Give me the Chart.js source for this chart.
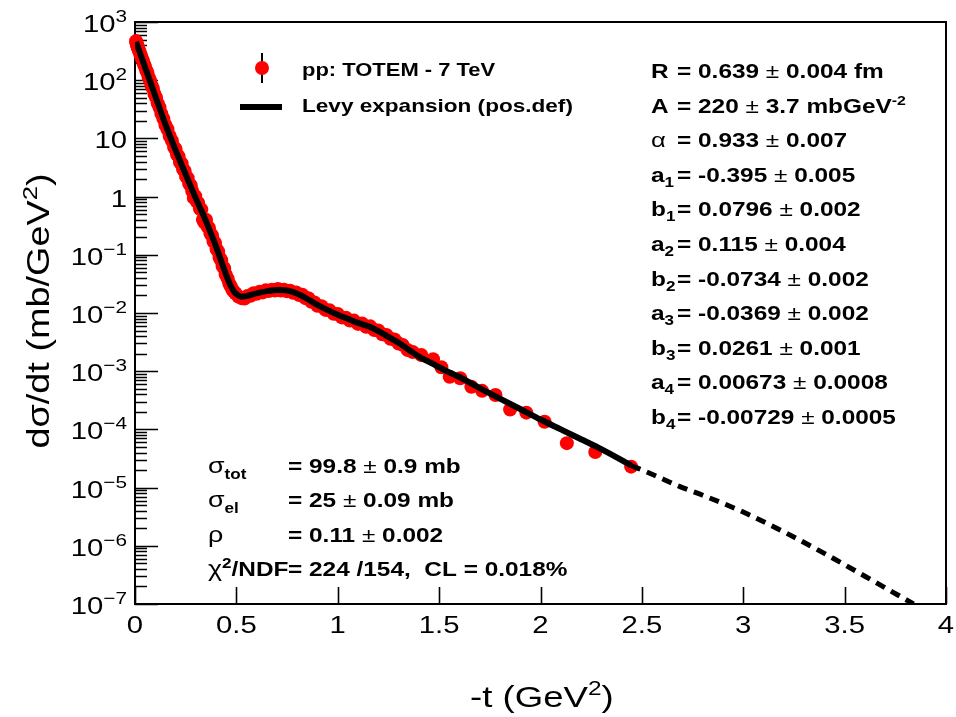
<!DOCTYPE html>
<html>
<head>
<meta charset="utf-8">
<script src="https://cdn.jsdelivr.net/npm/chart.js@4.4.0/dist/chart.umd.min.js"></script>
<style>
  html, body { margin: 0; padding: 0; background: #fff; }
  canvas { display: block; }
</style>
</head>
<body>
<canvas id="chart" width="956" height="717"></canvas>
<script>
// TOTEM 7 TeV measured points (-t in GeV^2, dsigma/dt in mb/GeV^2)
const dataT = [0.0052, 0.0070, 0.0090, 0.011, 0.013, 0.016, 0.019, 0.022, 0.026, 0.030, 0.034, 0.039, 0.044, 0.049,
  0.055, 0.061, 0.067, 0.074, 0.081, 0.088, 0.096, 0.104, 0.112, 0.121, 0.130, 0.140, 0.150, 0.160, 0.171, 0.182, 0.193,
  0.200, 0.207, 0.215, 0.222, 0.230, 0.237, 0.245, 0.252, 0.260, 0.267, 0.275, 0.282, 0.290, 0.297, 0.305, 0.312,
  0.320, 0.327, 0.335, 0.342, 0.350, 0.357, 0.365, 0.372, 0.380, 0.387, 0.395, 0.402, 0.410, 0.417, 0.425, 0.432,
  0.440, 0.447, 0.457, 0.465, 0.472, 0.480, 0.487, 0.495, 0.51, 0.525, 0.54, 0.555, 0.57, 0.585, 0.60,
  0.615, 0.63, 0.645, 0.66, 0.675, 0.69, 0.705, 0.72, 0.735, 0.75, 0.765, 0.78, 0.795, 0.81, 0.825, 0.84, 0.855,
  0.87, 0.885, 0.90, 0.92, 0.94, 0.96, 0.98, 1.00, 1.02, 1.04, 1.06, 1.08, 1.10, 1.12, 1.14, 1.16, 1.18, 1.20,
  1.22, 1.24, 1.26, 1.28, 1.30, 1.32, 1.345, 1.37,
  1.412, 1.470, 1.511, 1.552, 1.604, 1.659, 1.712, 1.778, 1.850, 1.930, 2.020, 2.130, 2.270, 2.447];
const dataY = [470, 440, 412, 400, 372, 358, 326, 312, 280, 262, 233, 216, 188, 172,
  148, 134, 113, 99, 82, 72, 58, 50, 40, 34, 26.5, 21.8, 17.0, 14.4, 11.0, 9.1, 7.0,
  6.6, 5.3, 4.9, 3.9, 3.7, 2.95, 2.75, 2.2, 2.08, 1.66, 1.56, 1.25, 0.95, 1.02, 0.82, 0.78,
  0.62, 0.60, 0.40, 0.36, 0.40, 0.31, 0.29, 0.232, 0.215, 0.171, 0.160, 0.126, 0.114, 0.090, 0.081, 0.064,
  0.058, 0.046, 0.039, 0.032, 0.029, 0.025, 0.0235, 0.0218, 0.0192, 0.0180, 0.0178, 0.0196, 0.0198, 0.0218, 0.0214,
  0.0232, 0.0226, 0.0245, 0.0238, 0.0252, 0.0243, 0.0258, 0.0244, 0.0251, 0.0236, 0.0242, 0.0222, 0.0226, 0.0204, 0.0206, 0.0180, 0.0179,
  0.0156, 0.0152, 0.0133, 0.0131, 0.0113, 0.0111, 0.0097, 0.0096, 0.0084, 0.0083, 0.0074, 0.0074, 0.0065, 0.0066, 0.0058, 0.0059, 0.0051, 0.0050,
  0.0043, 0.0042, 0.0036, 0.0035, 0.0030, 0.00283, 0.00232, 0.00214,
  0.0019, 0.0016, 0.00117, 0.000805, 0.000755, 0.00054, 0.00046, 0.00039, 0.00022, 0.000194, 0.000135, 0.000058, 0.000041, 0.0000229];

// Levy expansion fit, fitted range
const fitT = [0.005, 0.05, 0.1, 0.15, 0.2, 0.25, 0.3, 0.35, 0.4, 0.45, 0.47, 0.49, 0.51, 0.525, 0.55, 0.58, 0.62, 0.66,
  0.70, 0.74, 0.78, 0.82, 0.86, 0.90, 0.95, 1.0, 1.05, 1.1, 1.16, 1.2, 1.25, 1.3, 1.35, 1.4, 1.45, 1.5, 1.55, 1.6,
  1.7, 1.8, 1.9, 2.0, 2.1, 2.2, 2.3, 2.447];
const fitY = [457, 166, 53.7, 17.4, 6.31, 2.40, 0.933, 0.380, 0.138, 0.0447, 0.0302, 0.0229, 0.0200, 0.0191, 0.0195, 0.0209, 0.0226, 0.0240,
  0.0248, 0.0245, 0.0229, 0.0200, 0.0166, 0.0138, 0.0112, 0.00933, 0.00794, 0.00676, 0.00575, 0.00490, 0.00389, 0.00309, 0.00234, 0.00178, 0.00145, 0.00117, 0.000955, 0.000794,
  0.000513, 0.000339, 0.000224, 0.000148, 0.000100, 0.0000676, 0.0000457, 0.0000240];

// Levy expansion, extrapolated (dashed)
const extT = [2.447, 2.55, 2.685, 2.8, 3.0, 3.2, 3.4, 3.6, 3.84];
const extY = [0.0000240, 0.0000170, 0.0000105, 0.0000074, 0.0000038, 0.00000174, 0.00000074, 0.00000030, 0.0000001];

const xTicks = [0, 0.5, 1, 1.5, 2, 2.5, 3, 3.5, 4];
const xTickLabels = ['0', '0.5', '1', '1.5', '2', '2.5', '3', '3.5', '4'];
const yDecades = [-7, -6, -5, -4, -3, -2, -1, 0, 1, 2, 3];

const SX = 1.22;
const FONT = '"Liberation Sans", Arial, Helvetica, sans-serif';

// draw a run of text pieces (sub/superscripts) one after another
function rich(ctx, x, y, parts, sx = SX, sy = 1) {
    let cx = x;
    for (const p of parts) {
        ctx.font = p.f;
        ctx.save();
        ctx.translate(cx, y + (p.dy || 0));
        ctx.scale(sx, sy);
        ctx.fillText(p.t, 0, 0);
        ctx.restore();
        cx += ctx.measureText(p.t).width * sx;
    }
    return cx;
}

function richWidth(ctx, parts, sx = SX) {
    let w = 0;
    for (const p of parts) { ctx.font = p.f; w += ctx.measureText(p.t).width * sx; }
    return w;
}

const B = (s) => 'bold ' + s + 'px ' + FONT;
const N = (s) => s + 'px ' + FONT;

const rootStyle = {
    id: 'rootStyle',
    beforeDatasetsDraw(chart) {
        const { ctx, chartArea: a, scales: { x, y } } = chart;
        ctx.save();
        ctx.strokeStyle = '#000';
        ctx.lineWidth = 1.6;
        ctx.beginPath();
        // log ticks on the left axis, inside the frame
        yDecades.forEach(k => {
            for (let m = 1; m <= 9; m++) {
                const v = m * Math.pow(10, k);
                if (v > 1000.001) continue;
                const py = Math.round(y.getPixelForValue(v)) + 0.5;
                ctx.moveTo(a.left, py);
                ctx.lineTo(a.left + (m === 1 ? 23 : 12), py);
            }
        });
        xTicks.forEach(t => {
            const px = Math.round(x.getPixelForValue(t)) + 0.5;
            ctx.moveTo(px, a.bottom);
            ctx.lineTo(px, a.bottom - 17);
        });
        ctx.stroke();
        ctx.lineWidth = 2;
        ctx.strokeRect(a.left, a.top, a.right - a.left, a.bottom - a.top);
        ctx.restore();
    },
    afterDraw(chart) {
        const { ctx, scales: { x, y } } = chart;
        ctx.save();
        ctx.fillStyle = '#000';
        ctx.textBaseline = 'alphabetic';
        ctx.textAlign = 'left';

        // x tick labels
        xTicks.forEach((t, i) => {
            const parts = [{ t: xTickLabels[i], f: N(24) }];
            const w = richWidth(ctx, parts);
            rich(ctx, x.getPixelForValue(t) - w / 2, 633, parts);
        });

        // y tick labels
        yDecades.forEach(k => {
            let parts;
            if (k === 0) parts = [{ t: '1', f: N(24) }];
            else if (k === 1) parts = [{ t: '10', f: N(24) }];
            else parts = [{ t: '10', f: N(24) }, { t: (k < 0 ? '\u2212' : '') + Math.abs(k), f: N(17), dy: -10 }];
            const w = richWidth(ctx, parts);
            rich(ctx, 127 - w, y.getPixelForValue(Math.pow(10, k)) + 10, parts);
        });

        // axis titles
        const xt = [{ t: '-t (GeV', f: N(30) }, { t: '2', f: N(20), dy: -12 }, { t: ')', f: N(30) }];
        rich(ctx, 470, 707, xt);
        const yt = [{ t: 'd\u03c3/dt (mb/GeV', f: N(31) }, { t: '2', f: N(21), dy: -12 }, { t: ')', f: N(31) }];
        const yl = richWidth(ctx, yt);
        ctx.save();
        ctx.translate(49, 311 + yl / 2);
        ctx.rotate(-Math.PI / 2);
        rich(ctx, 0, 0, yt);
        ctx.restore();

        // legend
        ctx.strokeStyle = '#000';
        ctx.lineWidth = 2;
        ctx.beginPath();
        ctx.moveTo(262, 53); ctx.lineTo(262, 83);
        ctx.stroke();
        ctx.fillStyle = '#ff0000';
        ctx.beginPath();
        ctx.arc(262, 68, 7, 0, Math.PI * 2);
        ctx.fill();
        ctx.fillStyle = '#000';
        ctx.fillRect(240, 104, 42, 6);
        rich(ctx, 302, 76, [{ t: 'pp: TOTEM - 7 TeV', f: B(18) }]);
        rich(ctx, 302, 112, [{ t: 'Levy expansion (pos.def)', f: B(18.5) }]);

        // fit parameters, right block
        const pm = (v, e, unit) => [
            { t: '= ' + v + ' ', f: B(20) }, { t: '\u00b1', f: N(20) }, { t: ' ' + e + (unit || ''), f: B(20) }];
        const sub = (l, s) => [{ t: l, f: B(20) }, { t: s, f: B(14), dy: 5 }];
        const params = [
            [[{ t: 'R', f: B(20) }], pm('0.639', '0.004', ' fm')],
            [[{ t: 'A', f: B(20) }], pm('220', '3.7', ' mbGeV').concat([{ t: '-2', f: B(13), dy: -8 }])],
            [[{ t: '\u03b1', f: N(21) }], pm('0.933', '0.007')],
            [sub('a', '1'), pm('-0.395', '0.005')],
            [sub('b', '1'), pm('0.0796', '0.002')],
            [sub('a', '2'), pm('0.115', '0.004')],
            [sub('b', '2'), pm('-0.0734', '0.002')],
            [sub('a', '3'), pm('-0.0369', '0.002')],
            [sub('b', '3'), pm('0.0261', '0.001')],
            [sub('a', '4'), pm('0.00673', '0.0008')],
            [sub('b', '4'), pm('-0.00729', '0.0005')]
        ];
        params.forEach((p, i) => {
            const by = 78 + i * 34.6;
            rich(ctx, 651, by, p[0]);
            rich(ctx, 677, by, p[1]);
        });

        // cross sections, lower-left block
        const lower = [
            [[{ t: '\u03c3', f: N(22) }, { t: 'tot', f: B(14), dy: 6 }], pm('99.8', '0.9', ' mb')],
            [[{ t: '\u03c3', f: N(22) }, { t: 'el', f: B(14), dy: 6 }], pm('25', '0.09', ' mb')],
            [[{ t: '\u03c1', f: N(22) }], pm('0.11', '0.002')],
            [[{ t: '\u03c7', f: N(22) }, { t: '2', f: B(14), dy: -8 }, { t: '/NDF', f: B(20) }],
                [{ t: '= 224 /154,  CL = 0.018%', f: B(20) }]]
        ];
        lower.forEach((p, i) => {
            const by = 473 + i * 34.3;
            rich(ctx, 208, by, p[0]);
            rich(ctx, 288, by, p[1]);
        });
        ctx.restore();
    }
};

const points = dataT.map((t, i) => ({ x: t, y: dataY[i] }));
const fit = fitT.map((t, i) => ({ x: t, y: fitY[i] }));
const ext = extT.map((t, i) => ({ x: t, y: extY[i] }));

new Chart(document.getElementById('chart'), {
    type: 'scatter',
    data: {
        datasets: [
            {
                label: 'Levy expansion (pos.def)',
                data: fit,
                showLine: true,
                borderColor: '#000',
                borderWidth: 6,
                pointRadius: 0,
                cubicInterpolationMode: 'monotone',
                order: 0
            },
            {
                label: 'extrapolation',
                data: ext,
                showLine: true,
                borderColor: '#000',
                borderWidth: 5,
                borderDash: [10, 7],
                pointRadius: 0,
                cubicInterpolationMode: 'monotone',
                order: 1
            },
            {
                label: 'pp: TOTEM - 7 TeV',
                data: points,
                showLine: false,
                pointRadius: 7,
                pointBackgroundColor: '#ff0000',
                pointBorderWidth: 0,
                clip: false,
                order: 2
            }
        ]
    },
    options: {
        responsive: false,
        devicePixelRatio: 1,
        animation: false,
        layout: { padding: { left: 135, right: 10, top: 22, bottom: 113 } },
        scales: {
            x: { type: 'linear', min: 0, max: 4, display: false },
            y: { type: 'logarithmic', min: 1e-7, max: 1e3, display: false }
        },
        plugins: {
            legend: { display: false },
            tooltip: { enabled: false }
        }
    },
    plugins: [rootStyle]
});
</script>
</body>
</html>
